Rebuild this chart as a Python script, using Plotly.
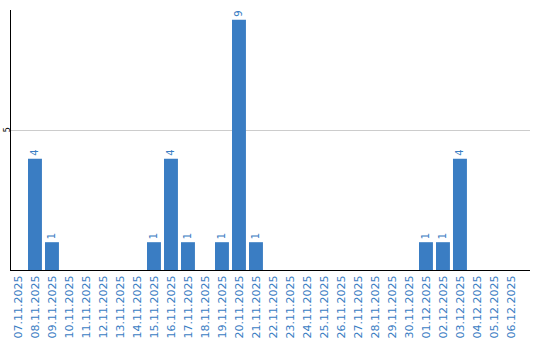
import plotly.graph_objects as go

dates = ["07.11.2025", "08.11.2025", "09.11.2025", "10.11.2025", "11.11.2025",
         "12.11.2025", "13.11.2025", "14.11.2025", "15.11.2025", "16.11.2025",
         "17.11.2025", "18.11.2025", "19.11.2025", "20.11.2025", "21.11.2025",
         "22.11.2025", "23.11.2025", "24.11.2025", "25.11.2025", "26.11.2025",
         "27.11.2025", "28.11.2025", "29.11.2025", "30.11.2025", "01.12.2025",
         "02.12.2025", "03.12.2025", "04.12.2025", "05.12.2025", "06.12.2025"]
counts = [0, 4, 1, 0, 0, 0, 0, 0, 1, 4, 1, 0, 1, 9, 1, 0, 0, 0, 0, 0,
          0, 0, 0, 0, 1, 1, 4, 0, 0, 0]
labels = [str(v) if v > 0 else "" for v in counts]

blue = "#3a7dc3"

fig = go.Figure(go.Bar(
    x=list(range(len(dates))), y=counts, text=labels,
    textposition="outside", textangle=-90,
    textfont=dict(color=blue, size=10, family="DejaVu Sans"),
    marker=dict(color=blue, line=dict(width=0)),
    cliponaxis=False,
))

fig.update_layout(
    width=540, height=340,
    margin=dict(l=11, r=10, t=10, b=70),
    paper_bgcolor="white", plot_bgcolor="white",
    bargap=0.18, showlegend=False,
    font=dict(family="DejaVu Sans"),
)
fig.update_xaxes(
    tickmode="array", tickvals=list(range(len(dates))), ticktext=dates,
    tickangle=-90, tickfont=dict(color=blue, size=11),
    range=[-0.41, 30.12], showgrid=False, automargin=False,
    showline=True, linecolor="black", linewidth=1, ticks="",
)
fig.update_yaxes(
    range=[0, 9.35], tickvals=[5], ticktext=["5"], tickangle=-90,
    tickfont=dict(color="black", size=8), automargin=False,
    ticklabelstandoff=-3,
    showgrid=True, gridcolor="#cccccc", gridwidth=1,
    showline=True, linecolor="black", linewidth=1, zeroline=False, ticks="",
)

fig.write_html("out.html")
